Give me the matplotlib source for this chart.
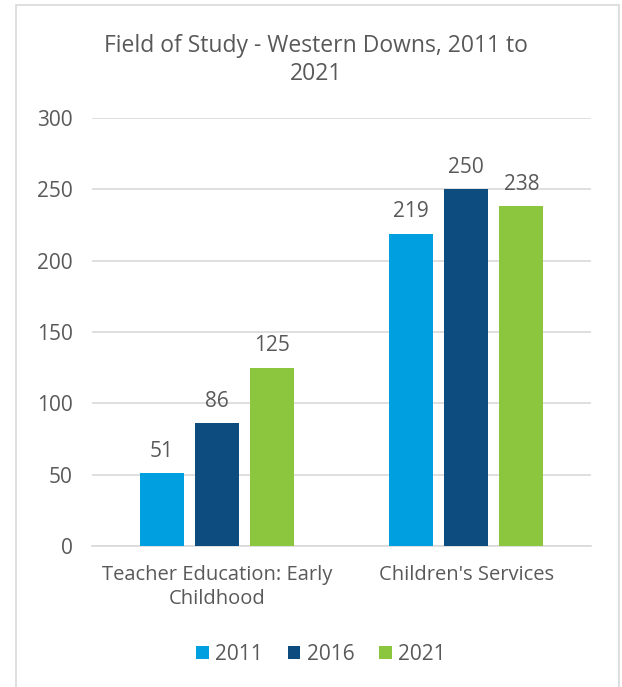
import matplotlib.pyplot as plt
from matplotlib.patches import Rectangle
import numpy as np

categories = ["Teacher Education: Early\nChildhood", "Children's Services"]
years = ["2011", "2016", "2021"]
values_2011 = [51, 219]
values_2016 = [86, 250]
values_2021 = [125, 238]
colors = ["#009FDF", "#0D4C7E", "#8CC63F"]

text_color = "#595959"
plt.rcParams["font.family"] = ["Open Sans", "DejaVu Sans"]

fig = plt.figure(figsize=(6.22, 6.87), dpi=100)
fig.patches.append(Rectangle((16 / 622, -0.01), 603 / 622, 1 - 5 / 687 + 0.01,
                             transform=fig.transFigure, fill=False,
                             edgecolor="#D9D9D9", linewidth=1.2))

ax = fig.add_axes([92 / 622, 1 - 546 / 687, 499 / 622, 428 / 687])

x = np.arange(len(categories))
width = 0.177
step = 0.221
series = [values_2011, values_2016, values_2021]
for i, (vals, year, color) in enumerate(zip(series, years, colors)):
    bars = ax.bar(x + (i - 1) * step, vals, width, color=color, label=year, zorder=3)
    for b, v in zip(bars, vals):
        ax.text(b.get_x() + b.get_width() / 2, v + 8, str(v), ha="center",
                va="bottom", fontsize=15, color=text_color)

ax.set_xlim(-0.5, 1.5)
ax.set_ylim(0, 300)
ax.set_yticks(range(0, 301, 50))
ax.set_xticks(x)
ax.set_xticklabels(categories, fontsize=14.5, color=text_color, linespacing=1.25)
ax.tick_params(axis="y", labelsize=15, labelcolor=text_color, length=0, pad=14)
ax.tick_params(axis="x", length=0, pad=14)
ax.grid(axis="y", color="#D9D9D9", linewidth=1.2, zorder=0)
for side in ["top", "right", "left"]:
    ax.spines[side].set_visible(False)
ax.spines["bottom"].set_color("#D9D9D9")
ax.spines["bottom"].set_linewidth(1.2)

fig.text(316 / 622, 1 - 60 / 687, "Field of Study - Western Downs, 2011 to\n2021",
         ha="center", va="center", fontsize=16.5, color=text_color, linespacing=1.25)

fig.legend(loc="center", bbox_to_anchor=(321 / 622, 1 - 654 / 687), ncol=3,
           frameon=False, fontsize=15, labelcolor=text_color, handlelength=0.6,
           handleheight=0.6, handletextpad=0.3, columnspacing=1.2)

fig.savefig("out.png", dpi=100, facecolor="white")
